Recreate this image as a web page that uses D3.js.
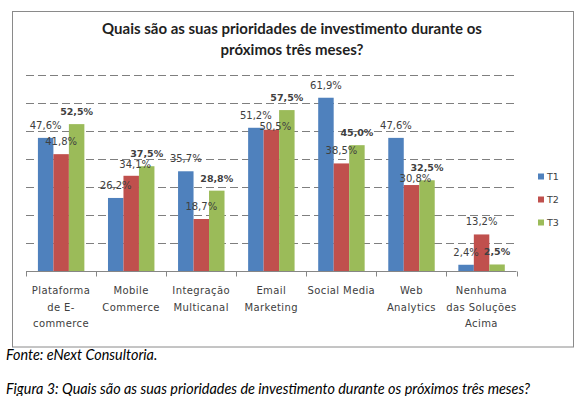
<!DOCTYPE html>
<html>
<head>
<meta charset="utf-8">
<script src="https://cdn.jsdelivr.net/npm/d3@7"></script>
<style>
  html, body { margin: 0; padding: 0; background: #fff; }
  svg { display: block; }
</style>
</head>
<body>
<svg id="chart" width="585" height="396"></svg>
<script>
// ---- data ----
const categories = [
  ["Plataforma", "de E-", "commerce"],
  ["Mobile", "Commerce"],
  ["Integração", "Multicanal"],
  ["Email", "Marketing"],
  ["Social Media"],
  ["Web", "Analytics"],
  ["Nenhuma", "das Soluções", "Acima"]
];
const seriesNames = ["T1", "T2", "T3"];
const T1 = [47.6, 26.2, 35.7, 51.2, 61.9, 47.6, 2.4];
const T2 = [41.8, 34.1, 18.7, 50.5, 38.5, 30.8, 13.2];
const T3 = [52.5, 37.5, 28.8, 57.5, 45.0, 32.5, 2.5];
const yTicks = [0, 10, 20, 30, 40, 50, 60, 70];
const titleLines = ["Quais são as suas prioridades de investimento durante os", "próximos três meses?"];
const sourceText = "Fonte: eNext Consultoria.";
const captionText = "Figura 3: Quais são as suas prioridades de investimento durante os próximos três meses?";

const colors = ["#4F81BD", "#C0504D", "#9BBB59"];
const seriesValues = [T1, T2, T3];

// ---- layout ----
const svg = d3.select("#chart");
const plot = { left: 26, right: 516.5, top: 75, bottom: 271.5 };

// chart frame
svg.append("rect")
  .attr("x", 12.5).attr("y", 11.5)
  .attr("width", 561).attr("height", 335.5)
  .attr("fill", "#fff").attr("stroke", "#8a8a8a").attr("stroke-width", 1);

// title
svg.append("g").selectAll("text").data(titleLines).join("text")
  .attr("x", 292).attr("y", (d, i) => 34 + i * 21)
  .attr("text-anchor", "middle")
  .attr("font-family", "Lato, 'Open Sans', sans-serif")
  .attr("font-weight", "bold").attr("font-size", 15)
  .attr("fill", "#1f1f1f")
  .text(d => d);

const catKeys = categories.map(c => c.join(" "));
const x0 = d3.scaleBand().domain(catKeys).range([plot.left, plot.right]).paddingInner(0).paddingOuter(0);
const bw = x0.bandwidth();
const x1 = d3.scaleBand().domain(seriesNames).range([bw * 0.17, bw * 0.833]).padding(0);
const y = d3.scaleLinear().domain([0, 70]).range([plot.bottom, plot.top]);

// gridlines
svg.append("g").selectAll("line").data(yTicks.filter(t => t > 0)).join("line")
  .attr("x1", plot.left).attr("x2", plot.right)
  .attr("y1", d => Math.round(y(d)) + 0.5).attr("y2", d => Math.round(y(d)) + 0.5)
  .attr("stroke", "#7f7f7f").attr("stroke-width", 1)
  .attr("stroke-dasharray", "8,4");

// bars
const groups = svg.append("g").selectAll("g").data(catKeys).join("g")
  .attr("transform", d => `translate(${x0(d)},0)`);

groups.selectAll("rect")
  .data((d, ci) => seriesNames.map((s, si) => ({ s, si, v: seriesValues[si][ci] })))
  .join("rect")
  .attr("x", d => x1(d.s))
  .attr("width", x1.bandwidth())
  .attr("y", d => y(d.v))
  .attr("height", d => y(0) - y(d.v))
  .attr("fill", d => colors[d.si]);

// data labels
groups.each(function (d, ci) {
  const g = d3.select(this);
  const items = seriesNames.map((s, si) => ({ s, si, v: seriesValues[si][ci] }));
  const texts = g.selectAll("text.lbl").data(items).join("text")
    .attr("class", "lbl")
    .attr("x", e => x1(e.s) + x1.bandwidth() / 2)
    .attr("y", e => y(e.v) - 9)
    .attr("text-anchor", "middle")
    .attr("font-family", "'DejaVu Sans', sans-serif")
    .attr("font-size", e => e.si === 2 ? 9.5 : 10)
    .attr("font-weight", e => e.si === 2 ? "bold" : "normal")
    .attr("fill", "#404040")
    .text(e => e.v.toFixed(1).replace(".", ",") + "%");
  // simple collision avoidance: T2 labels drop below any label they overlap
  const nodes = texts.nodes();
  const mid = nodes[1];
  const bb = n => n.getBBox();
  [nodes[0], nodes[2]].forEach(o => {
    const a = bb(mid), b = bb(o);
    const overlap = a.x < b.x + b.width && b.x < a.x + a.width && a.y < b.y + b.height && b.y < a.y + a.height;
    if (overlap) {
      d3.select(mid).attr("y", +d3.select(o).attr("y") + 11)
        .attr("x", +d3.select(mid).attr("x") + 4);
    }
  });
});

// x axis
const xAxis = svg.append("g");
xAxis.append("line")
  .attr("x1", plot.left).attr("x2", plot.right)
  .attr("y1", plot.bottom).attr("y2", plot.bottom)
  .attr("stroke", "#868686");
const boundaries = catKeys.map(k => x0(k)).concat([plot.right]);
xAxis.selectAll("line.tick").data(boundaries).join("line")
  .attr("class", "tick")
  .attr("x1", d => Math.round(d) + 0.5).attr("x2", d => Math.round(d) + 0.5)
  .attr("y1", plot.bottom).attr("y2", plot.bottom + 5)
  .attr("stroke", "#868686");

const catLabels = xAxis.selectAll("text").data(categories).join("text")
  .attr("x", (d, i) => x0(catKeys[i]) + bw / 2)
  .attr("text-anchor", "middle")
  .attr("font-family", "'DejaVu Sans', sans-serif")
  .attr("font-size", 10)
  .attr("letter-spacing", 0.4)
  .attr("fill", "#404040");
catLabels.selectAll("tspan").data(d => d).join("tspan")
  .attr("x", function () { return d3.select(this.parentNode).attr("x"); })
  .attr("y", (d, i) => 294 + i * 16.5)
  .text(d => d);

// legend
const legend = svg.append("g").selectAll("g").data(seriesNames).join("g")
  .attr("transform", (d, i) => `translate(538, ${176.5 + i * 23})`);
legend.append("rect")
  .attr("x", 0).attr("y", -3).attr("width", 6).attr("height", 6)
  .attr("fill", (d, i) => colors[i]);
legend.append("text")
  .attr("x", 9).attr("y", 3.5)
  .attr("font-family", "'DejaVu Sans', sans-serif")
  .attr("font-size", 9.5)
  .attr("fill", "#404040")
  .text(d => d);

// source and caption
svg.append("text")
  .attr("x", 6).attr("y", 360)
  .attr("font-family", "Lato, sans-serif").attr("font-style", "italic")
  .attr("font-size", 14.4).attr("fill", "#000")
  .text(sourceText);
svg.append("text")
  .attr("x", 6).attr("y", 394)
  .attr("font-family", "Lato, sans-serif").attr("font-style", "italic")
  .attr("font-size", 14.4).attr("fill", "#000")
  .text(captionText);
</script>
</body>
</html>
